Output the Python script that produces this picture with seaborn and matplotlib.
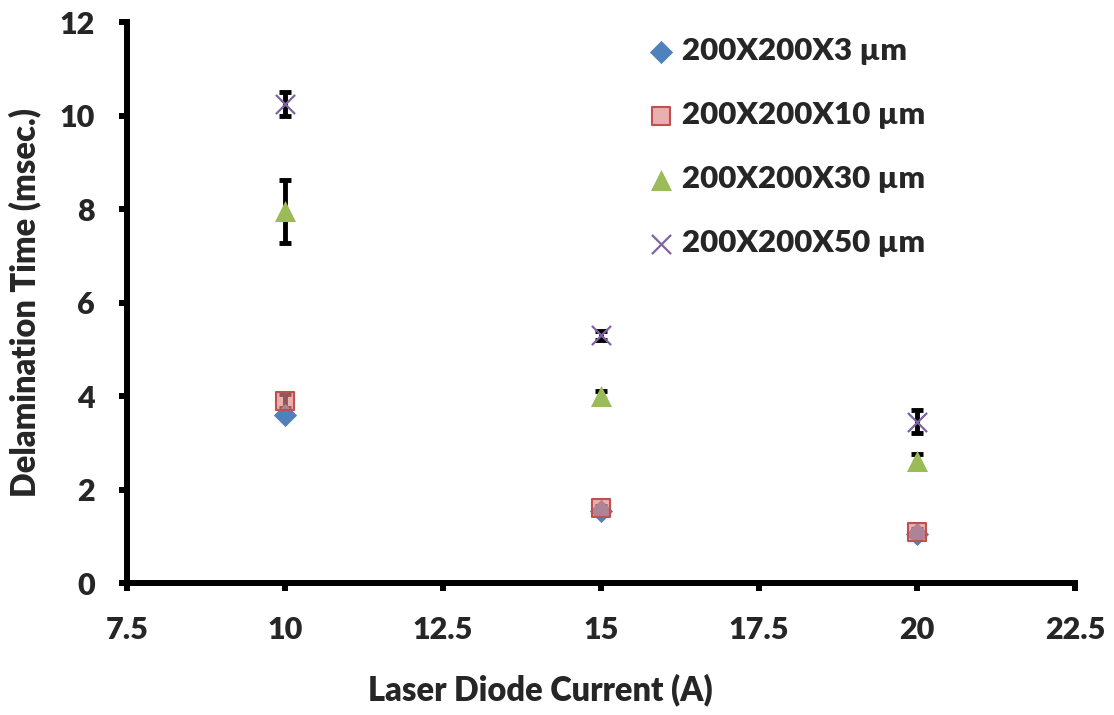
import matplotlib
matplotlib.use("Agg")
import matplotlib.pyplot as plt
import seaborn as sns
import pandas as pd
import numpy as np

# Measured delamination times for each coating thickness
current = [10, 15, 20]
series = ["200X200X3 µm", "200X200X10 µm", "200X200X30 µm", "200X200X50 µm"]
t_3um = [3.6, 1.55, 1.05]
t_10um = [3.9, 1.6, 1.1]
t_30um = [7.95, 4.0, 2.6]
t_50um = [10.25, 5.3, 3.45]
err_3um = [0.05, 0.05, 0.05]
err_10um = [0.15, 0.05, 0.05]
err_30um = [0.67, 0.1, 0.15]
err_50um = [0.25, 0.1, 0.25]

x_ticks = [7.5, 10, 12.5, 15, 17.5, 20, 22.5]
x_tick_labels = ["7.5", "10", "12.5", "15", "17.5", "20", "22.5"]
y_ticks = [0, 2, 4, 6, 8, 10, 12]

values = [t_3um, t_10um, t_30um, t_50um]
errors = [err_3um, err_10um, err_30um, err_50um]

df = pd.DataFrame({
    "current": np.tile(current, len(series)),
    "time": np.concatenate(values),
    "err": np.concatenate(errors),
    "sample": np.repeat(series, len(current)),
})

sns.set_theme(style="white")
plt.rcParams["font.family"] = ["Lato", "DejaVu Sans"]
W = "heavy"

fig = plt.figure(figsize=(11.14, 7.15), dpi=100)
ax = fig.add_axes([0.114, 0.1846, 0.851, 0.7846])

styles = {
    series[0]: dict(marker="D", s=140, color="#4F81BD", edgecolor="#4F81BD", linewidth=0),
    series[1]: dict(marker="s", s=175, color=(0.88, 0.52, 0.52, 0.65), edgecolor="#C0504D", linewidth=1.5),
    series[2]: dict(marker="^", s=230, color="#9BBB59", edgecolor="#9BBB59", linewidth=0),
    series[3]: dict(marker="x", s=190, color="#8064A2", linewidth=1.6),
}

# error bars sit underneath the markers
for name in series:
    sub = df[df["sample"] == name]
    ax.errorbar(sub["current"], sub["time"], yerr=sub["err"], fmt="none",
                ecolor="black", elinewidth=3.5, capsize=4.5, capthick=3.5, zorder=2)

for name in series:
    sub = df[df["sample"] == name]
    sns.scatterplot(data=sub, x="current", y="time", ax=ax, label=name,
                    zorder=3, **styles[name])

ax.set_xlim(7.5, 22.5)
ax.set_ylim(0, 12)
ax.set_xticks(x_ticks)
ax.set_xticklabels(x_tick_labels)
ax.set_yticks(y_ticks)

for side in ["top", "right"]:
    ax.spines[side].set_visible(False)
for side in ["left", "bottom"]:
    ax.spines[side].set_linewidth(4.3)
    ax.spines[side].set_color("black")
    ax.spines[side].set_capstyle("projecting")

ax.tick_params(axis="both", direction="out", length=6, width=4.3, color="black",
               labelsize=22, left=True, bottom=True)
ax.tick_params(axis="x", pad=18)
ax.tick_params(axis="y", pad=17)
for lab in ax.get_xticklabels() + ax.get_yticklabels():
    lab.set_fontweight(W)

ax.set_xlabel("Laser Diode Current (A)", fontsize=23.5, fontweight=W)
ax.set_ylabel("Delamination Time (msec.)", fontsize=23.5, fontweight=W)
ax.xaxis.set_label_coords(0.436, -0.19)
ax.xaxis.label.set_va("center")
ax.yaxis.set_label_coords(-0.1076, 0.5)
ax.yaxis.label.set_va("center")

leg = ax.legend(loc="upper left", bbox_to_anchor=(648 / 1114, 1 - 37 / 715),
                bbox_transform=fig.transFigure, frameon=False,
                prop={"size": 22.5, "weight": W}, labelspacing=1.15,
                handletextpad=0.3, handlelength=0.8, borderpad=0, borderaxespad=0)

fig.savefig("out.png", dpi=100)
